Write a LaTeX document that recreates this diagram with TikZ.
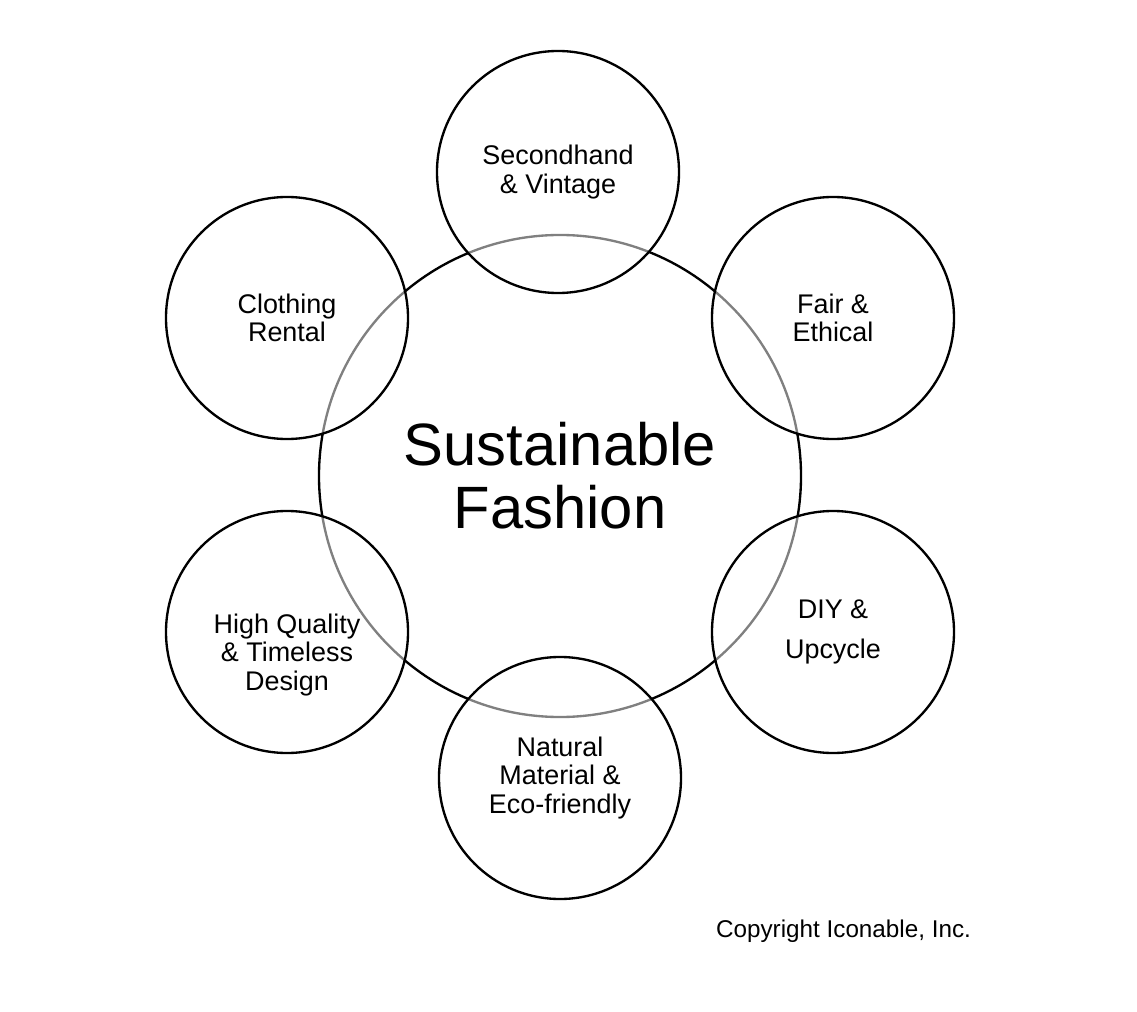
\documentclass[tikz,border=0pt]{standalone}
\usepackage{fontspec}
\setmainfont{Liberation Sans}
\begin{document}
\begin{tikzpicture}[x=0.03cm, y=-0.03cm,
    topic/.style={draw, circle, line width=2pt, minimum size=7.26cm,
        fill=white, fill opacity=0.5, text opacity=1, align=center,
        font=\fontsize{23}{24.5}\selectfont},
    caption/.style={align=center, font=\fontsize{23}{24.5}\selectfont}]
    \useasboundingbox (0,0) rectangle (1137,1012);

    % hub circle, grey where the topic circles lie over it
    \node[draw, circle, line width=2pt, minimum size=14.46cm, align=center,
        font=\fontsize{51}{54}\selectfont] (hub) at (560,476) {Sustainable\\Fashion};

    \node[topic] (vintage) at (558,172) {Secondhand\\\& Vintage};
    \node[topic] (fair) at (833,318) {Fair \&\\Ethical};
    \node[topic] (diy) at (833,632) {DIY \&\\[10pt]Upcycle};
    \node[topic] (natural) at (560,778) {Natural\\Material \&\\Eco-friendly};
    \node[topic] (quality) at (287,632) {};
    \node[caption] (qualitytext) at (287,655) {High Quality\\\& Timeless\\Design};
    \node[topic] (rental) at (287,318) {Clothing\\Rental};

    \node[anchor=base west, font=\fontsize{20.7}{22}\selectfont] (copy) at (712,937)
        {Copyright Iconable, Inc.};
\end{tikzpicture}
\end{document}
